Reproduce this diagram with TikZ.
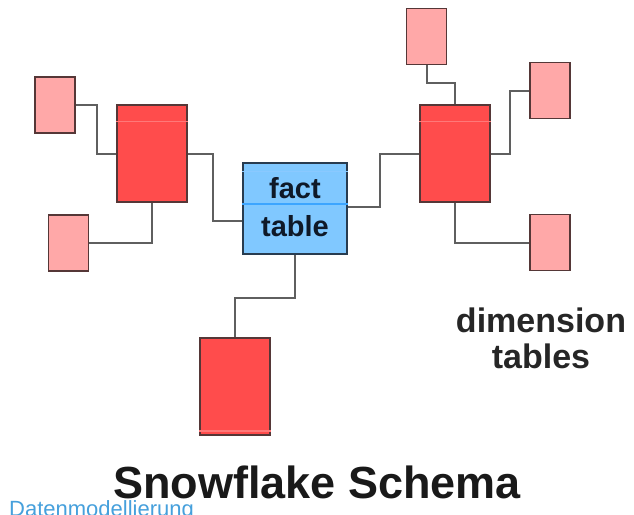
\documentclass[tikz,border=0pt]{standalone}
\usepackage{fontspec}
\setmainfont{Liberation Sans}
\begin{document}
\begin{tikzpicture}[x=1pt,y=-1pt,
  link/.style={draw=linkgray,line width=2pt},
  mainbox/.style={draw=boxedge,fill=mainred,line width=1.5pt,minimum width=70pt,minimum height=97pt,inner sep=0pt},
  dimbox/.style={draw=boxedge,fill=dimpink,line width=1.5pt,minimum width=40pt,minimum height=56pt,inner sep=0pt},
  factbox/.style={draw=factedge,fill=factblue,line width=1.5pt,minimum width=104pt,minimum height=91pt,inner sep=0pt},
  sheen/.style={draw=#1,line width=1.5pt},
  facttext/.style={font=\fontsize{29}{29}\selectfont\bfseries,text=facttxt,inner sep=0pt,anchor=base},
  dimtext/.style={font=\fontsize{34}{34}\selectfont\bfseries,text=black!85,inner sep=0pt,anchor=base}
]
\definecolor{linkgray}{RGB}{95,95,95}
\definecolor{boxedge}{RGB}{85,55,55}
\definecolor{mainred}{RGB}{255,76,76}
\definecolor{dimpink}{RGB}{255,168,168}
\definecolor{factblue}{RGB}{128,200,255}
\definecolor{factedge}{RGB}{40,60,80}
\definecolor{facttxt}{RGB}{15,25,40}
\definecolor{redsheen}{RGB}{255,120,120}
\definecolor{bluesheen}{RGB}{60,165,255}
\definecolor{footblue}{RGB}{70,160,220}

\fill[white] (0,0) rectangle (634,514);
\useasboundingbox (0,0) rectangle (634,514);

% fact table in the middle
\node[factbox] (fact) at (295,208.5) {};
\draw[sheen=bluesheen!60!white] ([yshift=-9pt]fact.north west) -- ([yshift=-9pt]fact.north east);
\draw[sheen=bluesheen] ([yshift=4.5pt]fact.west) -- ([yshift=4.5pt]fact.east);
\node[facttext] (tfact) at (295,198) {fact};
\node[facttext] (ttable) at (295,236) {table};

% first-level dimension tables
\node[mainbox] (L) at (152,153.5) {};
\node[mainbox] (R) at (455,153.5) {};
\node[mainbox] (B) at (235,386.5) {};
\draw[sheen=redsheen] ([yshift=-17pt]L.north west) -- ([yshift=-17pt]L.north east);
\draw[sheen=redsheen] ([yshift=-17pt]R.north west) -- ([yshift=-17pt]R.north east);
\draw[sheen=redsheen] ([yshift=5pt]B.south west) -- ([yshift=5pt]B.south east);

% second-level dimension tables
\node[dimbox] (LT) at (55,105) {};
\node[dimbox] (LB) at (68.5,243) {};
\node[dimbox] (RT) at (426.5,36.5) {};
\node[dimbox] (RU) at (550,90.5) {};
\node[dimbox] (RB) at (550,242.5) {};

% connectors
\draw[link] (L.east) -- (213,153.5) -- (213,221) -- (fact.west |- 0,221);
\draw[link] (fact.east |- 0,207) -- (380,207) -- (380,153.5) -- (R.west);
\draw[link] (fact.south) -- (295,298) -- (B.north |- 0,298) -- (B.north);
\draw[link] (LT.east) -- (97,105) -- (97,153.5) -- (L.west);
\draw[link] (L.south) |- (LB.east);
\draw[link] (RT.south) |- (R.north |- 0,83) -- (R.north);
\draw[link] (R.east) -- (510,153.5) -- (510,90.5) -- (RU.west);
\draw[link] (R.south) |- (RB.west);

% labels
\node[dimtext] (tdim) at (541,332) {dimension};
\node[dimtext] (ttab) at (541,368) {tables};
\node[font=\fontsize{22}{22}\selectfont,text=footblue,inner sep=0pt,anchor=base west] (foot) at (9,516) {Datenmodellierung};
\node[font=\fontsize{45}{45}\selectfont\bfseries,text=black!90,inner sep=0pt,anchor=base] (title) at (317,498) {Snowflake Schema};
\end{tikzpicture}
\end{document}
